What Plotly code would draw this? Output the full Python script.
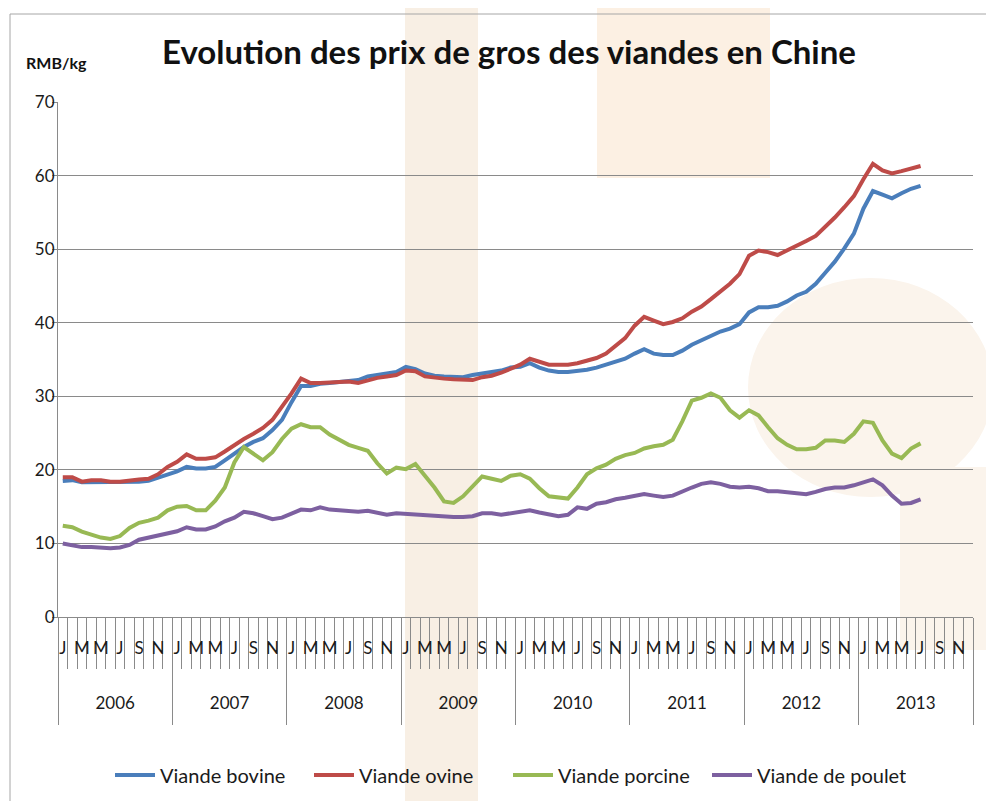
import plotly.graph_objects as go

# ---------------- data ----------------
years = [2006, 2007, 2008, 2009, 2010, 2011, 2012, 2013]
month_labels = ["J", "", "M", "", "M", "", "J", "", "S", "", "N", ""]

bovine = [18.5, 18.6, 18.3, 18.3, 18.3, 18.3, 18.3, 18.4, 18.4, 18.5, 18.9, 19.4,
          19.8, 20.4, 20.2, 20.2, 20.4, 21.3, 22.2, 23.1, 23.8, 24.3, 25.4, 26.8,
          29.2, 31.4, 31.4, 31.7, 31.8, 31.9, 32.0, 32.2, 32.7, 32.9, 33.1, 33.3,
          34.0, 33.7, 33.1, 32.8, 32.7, 32.7, 32.6, 32.9, 33.1, 33.4, 33.5, 33.9,
          34.0, 34.5, 33.9, 33.5, 33.3, 33.3, 33.4, 33.6, 33.9, 34.3, 34.6, 35.1,
          35.8, 36.4, 35.8, 35.6, 35.6, 36.2, 37.0, 37.6, 38.2, 38.8, 39.2, 39.8,
          41.4, 42.1, 42.1, 42.3, 42.9, 43.7, 44.2, 45.3, 46.8, 48.3, 50.1, 52.1,
          55.5, 57.9, 57.4, 56.9, 57.6, 58.2, 58.6]

ovine = [19.0, 19.0, 18.4, 18.6, 18.6, 18.4, 18.4, 18.6, 18.7, 18.8, 19.4, 20.4,
         21.1, 22.1, 21.5, 21.5, 21.7, 22.5, 23.4, 24.2, 24.9, 25.7, 26.8, 28.5,
         30.4, 32.4, 31.8, 31.8, 31.9, 32.0, 32.0, 31.8, 32.2, 32.5, 32.7, 32.9,
         33.5, 33.4, 32.7, 32.5, 32.4, 32.3, 32.2, 32.2, 32.6, 32.8, 33.2, 33.8,
         34.3, 35.1, 34.7, 34.3, 34.3, 34.3, 34.5, 34.8, 35.2, 35.8, 36.8, 37.9,
         39.6, 40.8, 40.3, 39.8, 40.1, 40.6, 41.5, 42.2, 43.2, 44.3, 45.3, 46.6,
         49.1, 49.8, 49.6, 49.2, 49.8, 50.5, 51.1, 51.8, 53.0, 54.3, 55.7, 57.2,
         59.5, 61.6, 60.7, 60.3, 60.6, 60.9, 61.3]

porcine = [12.4, 12.2, 11.6, 11.2, 10.8, 10.6, 11.0, 12.1, 12.8, 13.1, 13.5, 14.5,
           15.0, 15.1, 14.5, 14.5, 15.8, 17.6, 21.0, 23.1, 22.2, 21.3, 22.4, 24.2,
           25.6, 26.2, 25.8, 25.8, 24.8, 24.1, 23.4, 23.0, 22.6, 20.9, 19.5, 20.3,
           20.1, 20.8, 19.2, 17.6, 15.7, 15.5, 16.4, 17.7, 19.1, 18.8, 18.5, 19.2,
           19.4, 18.8, 17.5, 16.4, 16.2, 16.1, 17.6, 19.4, 20.2, 20.7, 21.5, 22.0,
           22.3, 22.9, 23.2, 23.4, 24.1, 26.6, 29.4, 29.8, 30.4, 29.8, 28.1, 27.1,
           28.1, 27.4, 25.8, 24.3, 23.4, 22.8, 22.8, 23.0, 24.0, 24.0, 23.8, 24.9,
           26.6, 26.4, 24.0, 22.2, 21.6, 22.9, 23.6]

poulet = [10.0, 9.7, 9.5, 9.5, 9.45, 9.35, 9.45, 9.8, 10.5, 10.8, 11.05, 11.3,
          11.65, 12.2, 11.9, 11.9, 12.3, 13.0, 13.5, 14.3, 14.1, 13.7, 13.3, 13.5,
          14.0, 14.6, 14.5, 14.9, 14.6, 14.5, 14.3, 14.3, 14.45, 14.2, 13.9, 14.1,
          14.0, 13.9, 13.9, 13.7, 13.7, 13.6, 13.6, 13.7, 14.1, 14.1, 13.9, 14.1,
          14.3, 14.5, 14.2, 13.9, 13.7, 13.9, 14.9, 14.7, 15.4, 15.6, 16.0, 16.2,
          16.4, 16.7, 16.5, 16.3, 16.5, 17.1, 17.6, 18.1, 18.3, 18.1, 17.7, 17.6,
          17.7, 17.5, 17.1, 17.1, 17.0, 16.9, 16.7, 17.0, 17.4, 17.6, 17.6, 17.9,
          18.3, 18.7, 17.9, 16.5, 15.4, 15.5, 16.0]

series_names = ["Viande bovine", "Viande ovine", "Viande porcine", "Viande de poulet"]
series_colors = ["#4A7EBB", "#BE4B48", "#98B954", "#7D60A0"]
yticks = [0, 10, 20, 30, 40, 50, 60, 70]

# ---------------- derived axis positions ----------------
n_months = len(years) * len(month_labels)
month_pos = [i for i in range(n_months) if month_labels[i % 12] != ""]
month_txt = [month_labels[i % 12] for i in month_pos]
month_bounds = [i - 0.5 for i in range(n_months + 1)]
year_pos = [k * 12 + 5.5 for k in range(len(years))]
year_bounds = [k * 12 - 0.5 for k in range(len(years) + 1)]

FONT = "Lato"
GRID = "#8A8A8A"
TXT = "#1A1A1A"

fig = go.Figure()
for name, col, vals in zip(series_names, series_colors, [bovine, ovine, porcine, poulet]):
    fig.add_trace(go.Scatter(x=list(range(len(vals))), y=vals, mode="lines", name=name,
                             line=dict(color=col, width=4)))

# helper (invisible) trace to carry the year axis
fig.add_trace(go.Scatter(x=[year_pos[0]], y=[None], xaxis="x2", showlegend=False,
                         hoverinfo="skip", mode="lines"))

# the page body adds an 8 px offset; work in screen pixels and convert
OFF = 8
W, H = 994, 801
L, R, T, B = 58 - OFF, 973 - OFF, 102 - OFF, 617 - OFF
pw, ph = R - L, B - T


def px(x):
    return (x - OFF - L) / pw


def py(y):
    return (B - (y - OFF)) / ph


shapes = [
    # watermark-like background shapes
    dict(type="rect", xref="paper", yref="paper", x0=px(405), x1=px(478), y0=py(812), y1=py(-10),
         fillcolor="#F8EFE4", line=dict(width=0), layer="below"),
    dict(type="rect", xref="paper", yref="paper", x0=px(597), x1=px(770), y0=py(178), y1=py(8),
         fillcolor="#FCF0E3", line=dict(width=0), layer="below"),
    dict(type="circle", xref="paper", yref="paper", x0=px(748), x1=px(993), y0=py(497), y1=py(278),
         fillcolor="#FBF4EC", line=dict(width=0), layer="below"),
    dict(type="rect", xref="paper", yref="paper", x0=px(900), x1=px(1000), y0=py(650), y1=py(467),
         fillcolor="#FBF4EC", line=dict(width=0), layer="below"),
    # chart border
    dict(type="rect", xref="paper", yref="paper", x0=px(10), x1=px(1010), y0=py(815), y1=py(14),
         line=dict(color="#A6A6A6", width=1), fillcolor="rgba(0,0,0,0)", layer="above"),
]

fig.update_layout(
    width=W, height=H,
    margin=dict(l=L, r=W - R, t=T, b=H - B),
    paper_bgcolor="white", plot_bgcolor="rgba(0,0,0,0)",
    font=dict(family=FONT, color=TXT),
    title=dict(text="<b>Evolution des prix de gros des viandes en Chine</b>",
               x=(509 - OFF) / W, xanchor="center", y=1 - (52 - OFF) / H, yanchor="middle",
               font=dict(size=33, family=FONT, color="#111111")),
    showlegend=True,
    legend=dict(orientation="h", x=px(110), xanchor="left", y=py(775), yanchor="middle",
                font=dict(size=20, family=FONT, color=TXT), bgcolor="rgba(0,0,0,0)",
                itemwidth=40, tracegroupgap=0, entrywidth=144, entrywidthmode="pixels"),
    xaxis=dict(range=[-0.5, n_months - 0.5], tickmode="array", tickvals=month_pos,
               ticktext=month_txt, ticks="", ticklabelstandoff=16, showgrid=False, zeroline=False,
               showline=True, linecolor=GRID, linewidth=1, automargin=False,
               tickfont=dict(size=17, family=FONT, color=TXT),
               minor=dict(tickmode="array", tickvals=month_bounds, ticks="outside", ticklen=51,
                          tickcolor=GRID, tickwidth=1, showgrid=False)),
    xaxis2=dict(range=[-0.5, n_months - 0.5], overlaying="x", anchor="y", side="bottom",
                tickmode="array", tickvals=year_pos, ticktext=[str(y) for y in years],
                ticks="", ticklabelstandoff=74, showgrid=False, zeroline=False, showline=False,
                automargin=False,
                tickfont=dict(size=17, family=FONT, color=TXT),
                minor=dict(tickmode="array", tickvals=year_bounds, ticks="outside", ticklen=107,
                           tickcolor=GRID, tickwidth=1, showgrid=False)),
    yaxis=dict(range=[0, 70], tickmode="array", tickvals=yticks, ticks="outside", ticklen=5,
               tickcolor=GRID, showgrid=True, gridcolor=GRID, gridwidth=1, zeroline=False,
               showline=True, linecolor=GRID, linewidth=1, automargin=False,
               ticklabelstandoff=-6,
               tickfont=dict(size=17, family=FONT, color=TXT)),
    shapes=shapes,
    annotations=[dict(text="<b>RMB/kg</b>", xref="paper", yref="paper", x=px(56), y=py(62),
                      xanchor="center", yanchor="middle", showarrow=False,
                      font=dict(size=16, family=FONT, color="#111111"))],
)

fig.write_html("out.html")
